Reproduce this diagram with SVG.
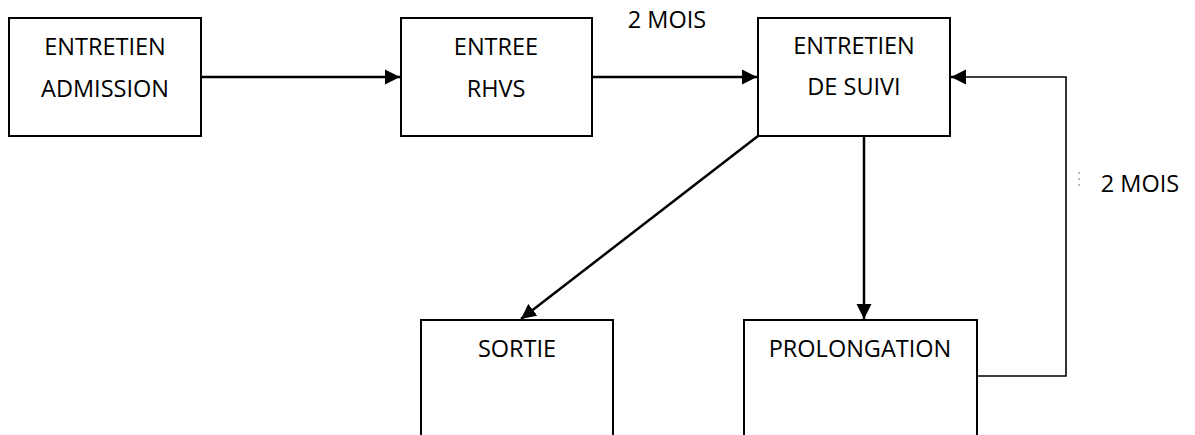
<svg xmlns="http://www.w3.org/2000/svg" width="1195" height="435" viewBox="0 0 1195 435">
<style>
.box{fill:#fff;stroke:#000;stroke-width:2}
.lbl{font-family:"Open Sans","Liberation Sans",sans-serif;font-size:23.5px;fill:#000;text-anchor:middle}
.con{fill:none;stroke:#000;stroke-width:2.5}
.thin{fill:none;stroke:#000;stroke-width:1.6}
</style>
<defs>
<marker id="ah" markerUnits="userSpaceOnUse" markerWidth="16" markerHeight="16" viewBox="0 0 16 16" refX="15" refY="8" orient="auto">
<path d="M0,0.5 L15,8 L0,15.5 Z" fill="#000"/>
</marker>
</defs>
<rect width="1195" height="435" fill="#fff"/>
<g id="connectors">
<line class="con" x1="201" y1="77" x2="400" y2="77" marker-end="url(#ah)"/>
<line class="con" x1="592" y1="77" x2="757" y2="77" marker-end="url(#ah)"/>
<line class="con" x1="864" y1="136" x2="864" y2="319" marker-end="url(#ah)"/>
<line class="con" x1="758" y1="136" x2="521" y2="319" marker-end="url(#ah)"/>
<polyline class="thin" points="977,376 1066,376 1066,77 966,77"/>
<line class="con" x1="966" y1="77" x2="951" y2="77" marker-end="url(#ah)" stroke-width="1.6"/>
<line x1="1079" y1="172" x2="1079" y2="188" stroke="#777" stroke-width="1" stroke-dasharray="2,4"/>
</g>
<g id="n-admission">
<rect class="box" x="9" y="18" width="192" height="118"/>
<text class="lbl" x="105" y="55">ENTRETIEN</text>
<text class="lbl" x="105" y="97">ADMISSION</text>
</g>
<g id="n-rhvs">
<rect class="box" x="401" y="18" width="191" height="118"/>
<text class="lbl" x="496" y="55">ENTREE</text>
<text class="lbl" x="496" y="97">RHVS</text>
</g>
<g id="n-suivi">
<rect class="box" x="758" y="18" width="192" height="118"/>
<text class="lbl" x="854" y="54">ENTRETIEN</text>
<text class="lbl" x="854" y="95">DE SUIVI</text>
</g>
<g id="n-sortie">
<rect class="box" x="421" y="320" width="192" height="130"/>
<text class="lbl" x="517" y="357">SORTIE</text>
</g>
<g id="n-prolongation">
<rect class="box" x="744" y="320" width="233" height="130"/>
<text class="lbl" x="860" y="357">PROLONGATION</text>
</g>
<g id="labels">
<text class="lbl" x="667" y="28">2 MOIS</text>
<text class="lbl" x="1140" y="192">2 MOIS</text>
</g>
</svg>
